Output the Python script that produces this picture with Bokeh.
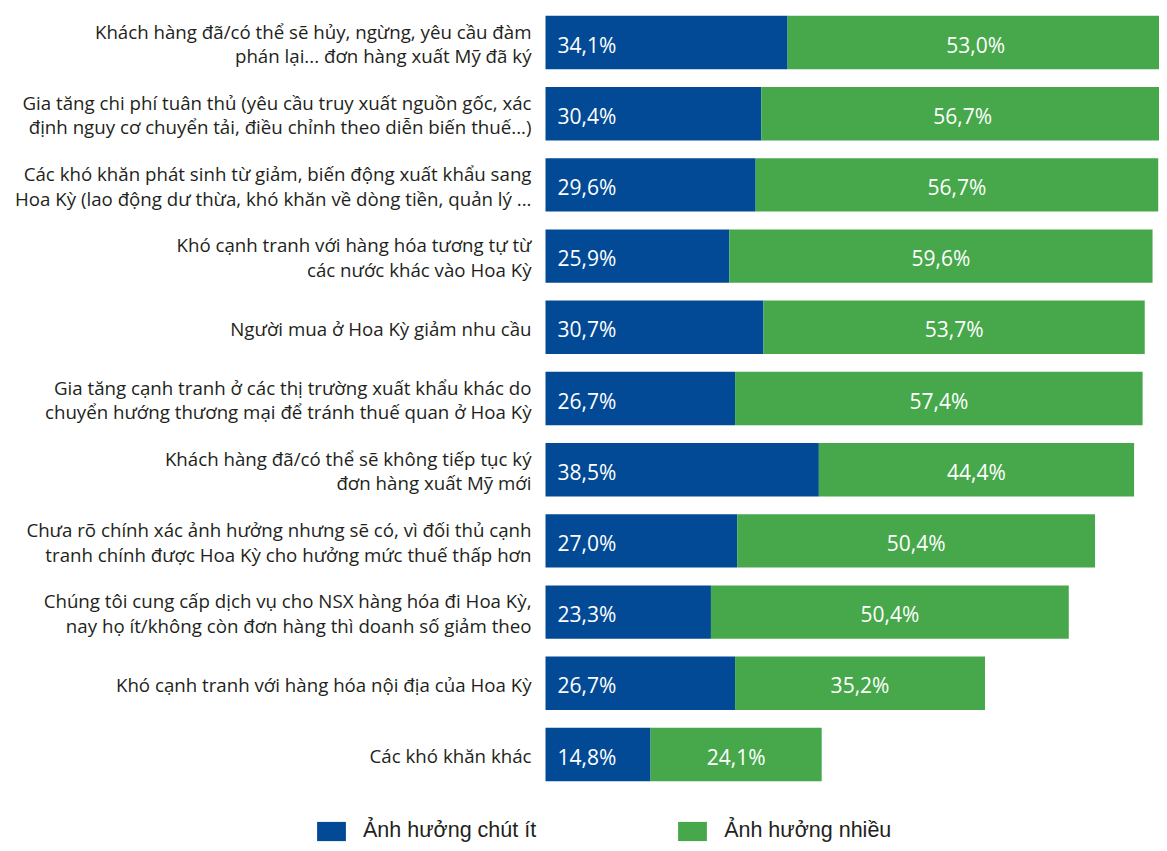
from bokeh.plotting import figure
from bokeh.models import Range1d, ColumnDataSource, Legend, LegendItem
from bokeh.core.properties import value
from bokeh.embed import file_html
from bokeh.resources import INLINE

categories = [
    "Khách hàng đã/có thể sẽ hủy, ngừng, yêu cầu đàm\nphán lại... đơn hàng xuất Mỹ đã ký",
    "Gia tăng chi phí tuân thủ (yêu cầu truy xuất nguồn gốc, xác\nđịnh nguy cơ chuyển tải, điều chỉnh theo diễn biến thuế...)",
    "Các khó khăn phát sinh từ giảm, biến động xuất khẩu sang\nHoa Kỳ (lao động dư thừa, khó khăn về dòng tiền, quản lý ...",
    "Khó cạnh tranh với hàng hóa tương tự từ\ncác nước khác vào Hoa Kỳ",
    "Người mua ở Hoa Kỳ giảm nhu cầu",
    "Gia tăng cạnh tranh ở các thị trường xuất khẩu khác do\nchuyển hướng thương mại để tránh thuế quan ở Hoa Kỳ",
    "Khách hàng đã/có thể sẽ không tiếp tục ký\nđơn hàng xuất Mỹ mới",
    "Chưa rõ chính xác ảnh hưởng nhưng sẽ có, vì đối thủ cạnh\ntranh chính được Hoa Kỳ cho hưởng mức thuế thấp hơn",
    "Chúng tôi cung cấp dịch vụ cho NSX hàng hóa đi Hoa Kỳ,\nnay họ ít/không còn đơn hàng thì doanh số giảm theo",
    "Khó cạnh tranh với hàng hóa nội địa của Hoa Kỳ",
    "Các khó khăn khác",
]
little = [34.1, 30.4, 29.6, 25.9, 30.7, 26.7, 38.5, 27.0, 23.3, 26.7, 14.8]
much = [53.0, 56.7, 56.7, 59.6, 53.7, 57.4, 44.4, 50.4, 50.4, 35.2, 24.1]
series_names = ["Ảnh hưởng chút ít", "Ảnh hưởng nhiều"]

BLUE = "#024A95"
GREEN = "#46A84A"

W, H = 1159, 843
zero_px = 545.0
scale = 7.1
row0 = 42.0
pitch = 71.2

x_start = -zero_px / scale
x_end = x_start + W / scale
y_top = -row0 / pitch
y_bottom = (H - row0) / pitch

rows = list(range(len(categories)))
fmt = lambda v: f"{v:.1f}%".replace(".", ",")
src = ColumnDataSource(dict(
    y=rows,
    cat=categories,
    little=little,
    much=much,
    total=[a + b for a, b in zip(little, much)],
    mid=[a + b / 2 for a, b in zip(little, much)],
    zero=[0] * len(rows),
    little_lbl=[fmt(v) for v in little],
    much_lbl=[fmt(v) for v in much],
))

p = figure(width=W, height=H, output_backend="svg", toolbar_location=None,
           x_range=Range1d(x_start, x_end), y_range=Range1d(y_bottom, y_top),
           min_border=0, min_border_left=0, min_border_right=0,
           min_border_top=0, min_border_bottom=0)
p.axis.visible = False
p.grid.visible = False
p.outline_line_color = None
p.background_fill_color = "white"
p.border_fill_color = "white"

r1 = p.hbar(y="y", left="zero", right="little", height=0.75, source=src,
            fill_color=BLUE, line_color=None)
r2 = p.hbar(y="y", left="little", right="total", height=0.75, source=src,
            fill_color=GREEN, line_color=None)

p.text(x="zero", y="y", text="cat", source=src, x_offset=-14, y_offset=1,
       text_align="right", text_baseline="middle",
       text_font=value("Open Sans"), text_font_size="18.7px",
       text_color="#231F20", text_line_height=0.98)

p.text(x="zero", y="y", text="little_lbl", source=src, x_offset=12, y_offset=2,
       text_align="left", text_baseline="middle",
       text_font=value("Open Sans"), text_font_size="21px", text_color="white")
p.text(x="mid", y="y", text="much_lbl", source=src, y_offset=2,
       text_align="center", text_baseline="middle",
       text_font=value("Open Sans"), text_font_size="21px", text_color="white")

legend = Legend(items=[LegendItem(label=series_names[0], renderers=[r1]),
                       LegendItem(label=series_names[1], renderers=[r2])],
                location=(313, 0), orientation="horizontal",
                glyph_width=36, glyph_height=24, label_height=24,
                label_standoff=14, spacing=138, padding=0, margin=0,
                label_text_font="Liberation Sans", label_text_font_size="21.5px",
                label_text_color="#231F20",
                border_line_color=None, background_fill_alpha=0)
p.add_layout(legend, "center")

open("out.html", "w").write(file_html(p, INLINE))
